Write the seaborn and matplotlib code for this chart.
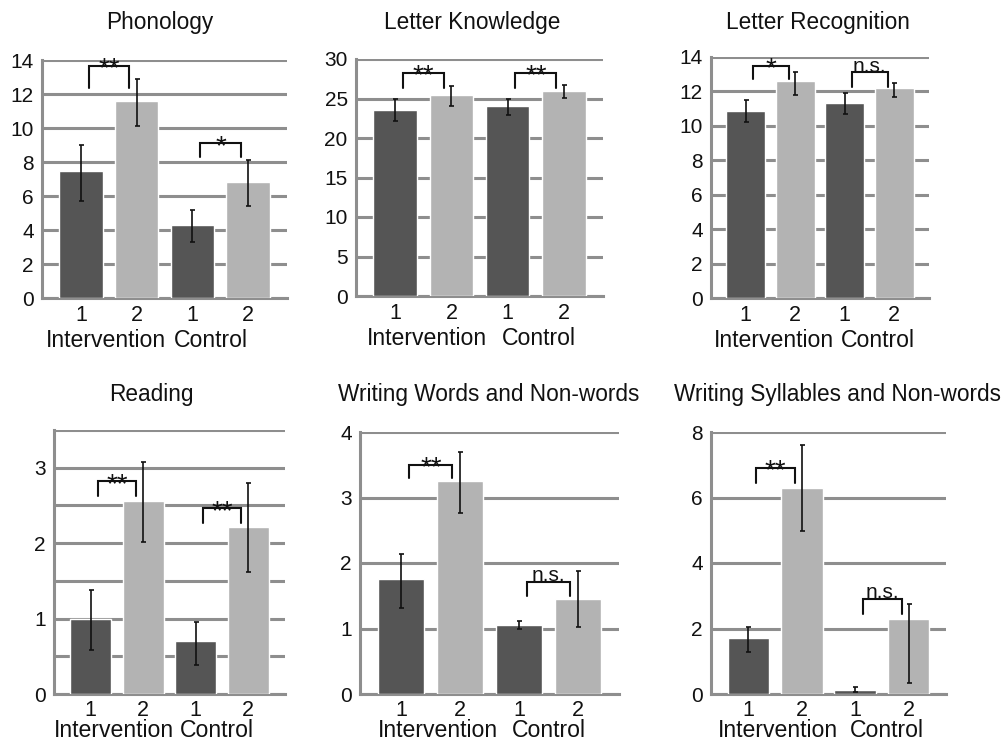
import numpy as np
import pandas as pd
import matplotlib
matplotlib.use("Agg")
import matplotlib.pyplot as plt
import seaborn as sns

# ---------------- data ----------------
titles = ["Phonology", "Letter Knowledge", "Letter Recognition",
          "Reading", "Writing Words and Non-words", "Writing Syllables and Non-words"]
bar_labels = ["1", "2", "1", "2"]
groups = ["Intervention", "Control"]

means = [
    [7.5, 11.6, 4.3, 6.8],
    [23.6, 25.4, 24.0, 25.9],
    [10.85, 12.6, 11.3, 12.2],
    [1.0, 2.56, 0.7, 2.22],
    [1.75, 3.25, 1.06, 1.45],
    [1.7, 6.3, 0.13, 2.3],
]
err_low = [
    [5.7, 10.1, 3.3, 5.4],
    [22.1, 24.0, 22.9, 25.1],
    [10.2, 11.8, 10.7, 11.7],
    [0.58, 2.02, 0.38, 1.62],
    [1.32, 2.77, 1.0, 1.03],
    [1.27, 4.98, 0.05, 0.35],
]
err_high = [
    [9.0, 12.9, 5.2, 8.1],
    [25.0, 26.6, 25.0, 26.7],
    [11.5, 13.1, 11.9, 12.5],
    [1.38, 3.08, 0.96, 2.8],
    [2.13, 3.7, 1.12, 1.88],
    [2.05, 7.6, 0.22, 2.75],
]
y_max = [14, 30, 14, 3.5, 4, 8]
y_step = [2, 5, 2, 0.5, 1, 2]
y_label_step = [2, 5, 2, 1, 1, 2]

# significance brackets: (label, top, leg bottom) for Intervention and Control
sig_labels = [["**", "*"], ["**", "**"], ["*", "n.s."],
              ["**", "**"], ["**", "n.s."], ["**", "n.s."]]
sig_top = [[13.65, 9.1], [28.2, 28.2], [13.5, 13.1],
           [2.82, 2.46], [3.5, 1.71], [6.9, 2.9]]
sig_leg = [[12.35, 8.3], [26.3, 26.3], [12.7, 12.25],
           [2.63, 2.27], [3.3, 1.5], [6.45, 2.44]]

# ---------------- layout (pixels) ----------------
W, H = 1006, 742
boxes = [  # left, right, top, bottom
    (42, 287, 60, 298),
    (356, 603, 59, 296),
    (711, 929, 57, 298),
    (54, 285, 430, 694),
    (360, 619, 432, 694),
    (711, 946, 432, 694),
]
title_x = [160, 472, 818, 151, 489, 837]
title_y = [22, 22, 22, 394, 394, 394]
group_x = [[0.45, 2.33], [0.57, 2.55], [0.58, 2.67], [0.44, 2.4], [0.62, 2.51], [0.55, 2.59]]
tick_pad = [5, 5, 5, 4, 4, 4]
group_off = [-22, -22, -22, -18, -18, -18]

sns.set_theme(style="white")
plt.rcParams["font.family"] = ["Liberation Sans", "DejaVu Sans"]

dark = "#555555"
light = "#b3b3b3"
gridc = "#8e8e8e"

fig = plt.figure(figsize=(W / 100, H / 100), dpi=100)
fig.patch.set_facecolor("white")

for k in range(6):
    l, r, t, b = boxes[k]
    ax = fig.add_axes([l / W, 1 - b / H, (r - l) / W, (b - t) / H])
    df = pd.DataFrame({"pos": [0, 1, 2, 3], "mean": means[k],
                       "col": ["a", "b", "a", "b"]})
    sns.barplot(data=df, x="pos", y="mean", hue="col", order=[0, 1, 2, 3],
                palette={"a": dark, "b": light}, width=0.78, dodge=False,
                legend=False, ax=ax, errorbar=None, saturation=1, zorder=3)
    m = np.array(means[k])
    lo = m - np.array(err_low[k])
    hi = np.array(err_high[k]) - m
    ax.errorbar([0, 1, 2, 3], m, yerr=[lo, hi], fmt="none", ecolor="#111111",
                elinewidth=1.2, capsize=1.8, capthick=1.2, zorder=4)

    ax.set_xlim(-0.7, 3.7)
    ax.set_ylim(0, y_max[k])
    ticks = np.arange(0, y_max[k] + 1e-9, y_step[k])
    ax.set_yticks(ticks)
    labs = []
    for v in ticks:
        if abs(v / y_label_step[k] - round(v / y_label_step[k])) < 1e-6:
            labs.append(f"{v:g}")
        else:
            labs.append("")
    ax.set_yticklabels(labs, fontsize=15, color="#111111")
    ax.tick_params(axis="y", length=0, pad=6)
    ax.set_xticks([0, 1, 2, 3])
    ax.set_xticklabels(bar_labels, fontsize=15.5, color="#111111")
    ax.tick_params(axis="x", length=0, pad=tick_pad[k])
    ax.set_xlabel("")
    ax.set_ylabel("")
    ax.yaxis.grid(True, color=gridc, linewidth=2.2, zorder=0)
    ax.xaxis.grid(False)
    ax.set_axisbelow(True)
    for s in ["top", "right"]:
        ax.spines[s].set_visible(False)
    ax.spines["left"].set_color(gridc)
    ax.spines["left"].set_linewidth(2.2)
    ax.spines["bottom"].set_color(gridc)
    ax.spines["bottom"].set_linewidth(2.2)

    # group labels
    for g in range(2):
        ax.annotate(groups[g], xy=(group_x[k][g], 0), xycoords=("data", "axes fraction"),
                    xytext=(0, group_off[k]), textcoords="offset points", ha="center", va="top",
                    fontsize=16.6, color="#111111")

    # significance brackets
    for g in range(2):
        x0 = 2 * g + 0.14
        x1 = 2 * g + 0.87
        top = sig_top[k][g]
        leg = sig_leg[k][g]
        ax.plot([x0, x0, x1, x1], [leg, top, top, leg], color="#111111",
                linewidth=1.5, zorder=5, clip_on=False, solid_joinstyle="miter")
        lab = sig_labels[k][g]
        if lab == "n.s.":
            ax.annotate(lab, xy=((x0 + x1) / 2, top), xytext=(0, 0.5),
                        textcoords="offset points", ha="center", va="baseline",
                        fontsize=15, color="#111111", zorder=6)
        else:
            ax.annotate(lab, xy=((x0 + x1) / 2, top), xytext=(0, -7.5),
                        textcoords="offset points", ha="center", va="baseline",
                        fontsize=20, color="#111111", zorder=6)

    fig.text(title_x[k] / W, 1 - title_y[k] / H, titles[k], ha="center", va="center",
             fontsize=16.3, color="#111111")

fig.savefig("out.png", dpi=100, facecolor="white")
